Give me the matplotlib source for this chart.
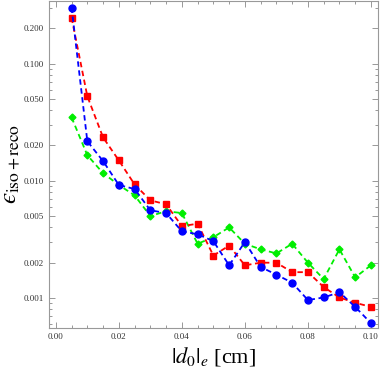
import numpy as np
import matplotlib
matplotlib.use("Agg")
import matplotlib.pyplot as plt
import matplotlib.ticker as ticker

plt.rcParams['font.family'] = ['Liberation Serif', 'DejaVu Serif']
plt.rcParams['mathtext.fontset'] = 'stix'

# |d0| bins [cm]
d0 = [0.005, 0.010, 0.015, 0.020, 0.025, 0.030, 0.035, 0.040, 0.045, 0.050,
      0.055, 0.060, 0.065, 0.070, 0.075, 0.080, 0.085, 0.090, 0.095, 0.100]

eff_blue = [0.30, 0.0217, 0.0147, 0.0092, 0.0085, 0.0056, 0.0053, 0.0037, 0.0035, 0.00305,
            0.0019, 0.0030, 0.00184, 0.00158, 0.00135, 0.00096, 0.00101, 0.00112, 0.00084, 0.00061]
eff_red = [0.246, 0.0525, 0.0234, 0.0149, 0.0093, 0.0068, 0.0063, 0.0041, 0.0043, 0.0023,
           0.0028, 0.0019, 0.0020, 0.0020, 0.00166, 0.00166, 0.00124, 0.00101, 0.00091, 0.00084]
eff_green = [0.0347, 0.0165, 0.0116, 0.0092, 0.0075, 0.0050, 0.0055, 0.0053, 0.0029, 0.0033,
             0.0040, 0.0029, 0.0026, 0.0024, 0.0029, 0.0020, 0.00145, 0.0026, 0.0015, 0.0019]

yticks = [0.001, 0.002, 0.005, 0.010, 0.020, 0.050, 0.100, 0.200]
xticks = [0.00, 0.02, 0.04, 0.06, 0.08, 0.10]

fig = plt.figure(figsize=(3.82, 3.76), dpi=100)
ax = fig.add_axes([0.128, 0.128, 0.862, 0.870])

ax.plot(d0, eff_green, ls='--', color='#00ee00', marker='D', ms=3.5, lw=1.3, dashes=(3, 2))
ax.plot(d0, eff_red, ls='--', color='#ff0000', marker='s', ms=4.5, lw=1.3, dashes=(3, 2))
ax.plot(d0, eff_blue, ls='--', color='#0000ff', marker='o', ms=5, lw=1.3, dashes=(3, 2))

ax.set_yscale('log')
ax.set_xlim(-0.0022, 0.1023)
ax.set_ylim(0.000556, 0.343)

ax.set_yticks(yticks)
ax.yaxis.set_major_formatter(ticker.FuncFormatter(lambda v, p: f"{v:.3f}"))
ax.yaxis.set_minor_locator(ticker.LogLocator(base=10, subs=np.arange(1, 10) * 1.0, numticks=20))
ax.yaxis.set_minor_formatter(ticker.NullFormatter())
ax.set_xticks(xticks)
ax.xaxis.set_major_formatter(ticker.FuncFormatter(lambda v, p: f"{v:.2f}"))
ax.xaxis.set_minor_locator(ticker.MultipleLocator(0.005))

ax.tick_params(which='both', direction='in', top=True, right=True, colors='#888888',
               labelcolor='#333333', labelsize=6.5, width=0.6)
ax.tick_params(which='major', length=4)
ax.tick_params(which='minor', length=2)
for s in ax.spines.values():
    s.set_color('#999999')
    s.set_linewidth(0.8)

ax.set_xlabel(r'$|d_0|_e$ [cm]', fontsize=16, labelpad=3)
ax.set_ylabel('$\u03f5_{\\mathrm{iso+reco}}$', fontsize=18, labelpad=1)

fig.savefig('out.png', dpi=100)
